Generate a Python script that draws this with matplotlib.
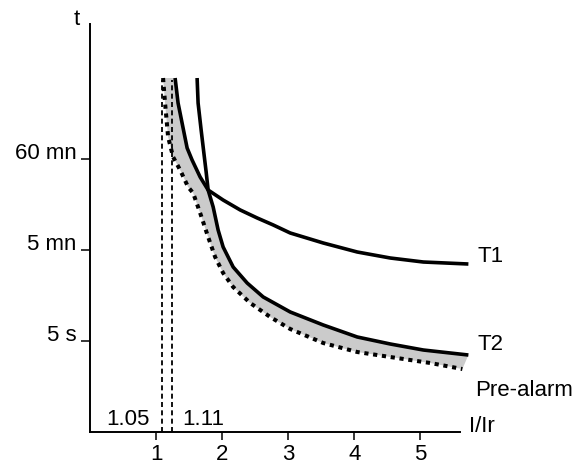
import matplotlib
matplotlib.use("Agg")
import matplotlib.pyplot as plt

plt.rcParams['font.family'] = ['Liberation Sans', 'DejaVu Sans']
plt.rcParams['lines.scale_dashes'] = False

# ---- data (schematic units: x = I/Ir, y = time level) ----
y_ticks = [1, 2, 3]
y_tick_labels = ["5 s", "5 mn", "60 mn"]
x_ticks = [1, 2, 3, 4, 5]
x_tick_labels = ["1", "2", "3", "4", "5"]

t1_x = [1.288, 1.333, 1.424, 1.470, 1.545, 1.667, 1.788, 2.015, 2.273, 2.530, 2.773, 3.030, 3.530, 4.045, 4.545, 5.045, 5.727]
t1_y = [3.890, 3.615, 3.286, 3.121, 2.989, 2.802, 2.659, 2.549, 2.440, 2.352, 2.275, 2.187, 2.077, 1.978, 1.912, 1.868, 1.846]

t2_x = [1.621, 1.636, 1.682, 1.727, 1.758, 1.788, 1.864, 1.939, 2.015, 2.167, 2.379, 2.621, 3.030, 3.530, 4.045, 4.545, 5.045, 5.727]
t2_y = [3.890, 3.615, 3.319, 3.044, 2.857, 2.659, 2.473, 2.220, 2.033, 1.813, 1.637, 1.484, 1.319, 1.176, 1.044, 0.967, 0.901, 0.846]

pre_x = [1.106, 1.136, 1.182, 1.258, 1.364, 1.485, 1.561, 1.667, 1.788, 1.894, 2.015, 2.167, 2.424, 2.727, 3.030, 3.530, 4.045, 4.545, 5.152, 5.636]
pre_y = [3.890, 3.615, 3.242, 3.022, 2.879, 2.692, 2.626, 2.407, 2.143, 1.923, 1.747, 1.593, 1.418, 1.264, 1.132, 0.978, 0.879, 0.824, 0.758, 0.692]

t1_cross = 6  # index of the T1/T2 crossing point in t1
t2_cross = 5  # index of the T1/T2 crossing point in t2

threshold_x = [1.09, 1.24]
threshold_labels = ["1.05", "1.11"]
threshold_top = 3.87

FS = 16
W, H = 579, 467
fig = plt.figure(figsize=(W / 100, H / 100), dpi=100)
ax_left, ax_right, ax_top, ax_bottom = 90, 460, 24, 432
ax = fig.add_axes([ax_left / W, 1 - ax_bottom / H, (ax_right - ax_left) / W, (ax_bottom - ax_top) / H])
ax.set_xlim(0, 5.6)
ax.set_ylim(0, (ax_bottom - ax_top) / 91)

for s in ["top", "right"]:
    ax.spines[s].set_visible(False)
for s in ["left", "bottom"]:
    ax.spines[s].set_linewidth(1.4)

ax.set_xticks(x_ticks)
ax.set_xticklabels(x_tick_labels)
ax.set_yticks(y_ticks)
ax.set_yticklabels(y_tick_labels)
ax.tick_params(axis='x', direction='out', length=5.5, width=1.1, pad=3.5, labelsize=FS)
ax.tick_params(axis='y', direction='out', length=6.5, width=1.1, pad=3, labelsize=FS)
for lab in ax.get_yticklabels():
    lab.set_verticalalignment('baseline')

# shaded band between pre-alarm and the trip curve (T1 above crossing, T2 below)
band_x = pre_x + t2_x[t2_cross:][::-1] + t1_x[:t1_cross][::-1]
band_y = pre_y + t2_y[t2_cross:][::-1] + t1_y[:t1_cross][::-1]
ax.fill(band_x, band_y, color='#cbcbcb', lw=0, zorder=1, clip_on=False)

ax.plot(t1_x, t1_y, color='black', lw=2.6, zorder=3, solid_capstyle='butt',
        solid_joinstyle='round', clip_on=False)
ax.plot(t2_x, t2_y, color='black', lw=2.6, zorder=3, solid_capstyle='butt',
        solid_joinstyle='round', clip_on=False)
ax.plot(pre_x, pre_y, color='black', lw=2.9, linestyle=(0, (3.0, 3.4)), zorder=3,
        clip_on=False)

for xv in threshold_x:
    ax.plot([xv, xv], [0, threshold_top], color='black', lw=1.3,
            linestyle=(0, (3.6, 2.4)), zorder=2)

ax.text(0.91, 0.077, threshold_labels[0], ha='right', va='baseline', fontsize=FS)
ax.text(1.39, 0.077, threshold_labels[1], ha='left', va='baseline', fontsize=FS)

ax.text(5.86, 1.87, "T1", ha='left', va='baseline', fontsize=FS)
ax.text(5.86, 0.90, "T2", ha='left', va='baseline', fontsize=FS)
ax.text(5.83, 0.40, "Pre-alarm", ha='left', va='baseline', fontsize=FS)
ax.text(5.73, 0.0, "I/Ir", ha='left', va='baseline', fontsize=FS)
ax.text(-0.15, 4.47, "t", ha='right', va='baseline', fontsize=FS)

for t in ax.texts:
    t.set_clip_on(False)

fig.savefig("out.png", dpi=100)
